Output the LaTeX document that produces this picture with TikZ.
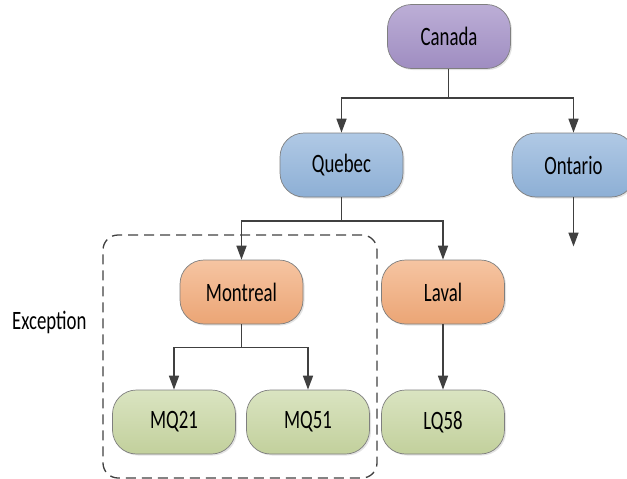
\documentclass[tikz,border=0pt]{standalone}
\usepackage{fontspec}
\setmainfont{Carlito}
\usepackage{graphicx}
\usetikzlibrary{arrows.meta,shadows}

\definecolor{purpT}{HTML}{BCAED6}
\definecolor{purpB}{HTML}{9F8DC1}
\definecolor{blueT}{HTML}{B0C9E5}
\definecolor{blueB}{HTML}{8DAFD5}
\definecolor{oranT}{HTML}{F6C5A2}
\definecolor{oranB}{HTML}{EBA575}
\definecolor{grenT}{HTML}{DAE4C1}
\definecolor{grenB}{HTML}{C2D09C}
\definecolor{edge}{HTML}{7F7F7F}
\definecolor{wire}{HTML}{404040}

% condensed label text
\newcommand{\lbl}[1]{\fontsize{26.5}{28}\selectfont\scalebox{0.71}[1]{#1}}

\tikzset{
  box/.style={rectangle, rounded corners=24pt, draw=edge, line width=0.7pt,
    minimum width=123pt, minimum height=64pt, inner sep=0pt,
    drop shadow={opacity=0.22, shadow xshift=1.5pt, shadow yshift=-1.5pt}},
  purple box/.style={box, top color=purpT, bottom color=purpB},
  blue box/.style={box, top color=blueT, bottom color=blueB},
  orange box/.style={box, top color=oranT, bottom color=oranB},
  green box/.style={box, top color=grenT, bottom color=grenB},
  wireline/.style={draw=wire, line width=1.6pt},
  arr/.style={wireline, -{Triangle[length=14pt,width=10pt]}},
  group/.style={draw=wire, line width=1.3pt, dash pattern=on 10pt off 6pt, rounded corners=15pt}
}

\begin{document}
\begin{tikzpicture}[x=1pt,y=-1pt]
  \useasboundingbox (0,0) rectangle (627,479);
  \begin{scope}
  \clip (0,0) rectangle (627,479);

  % nodes
  \node[purple box] (canada)   at (449,36.5)  {\lbl{Canada}};
  \node[blue box]   (quebec)   at (341.5,165) {\lbl{Quebec}};
  \node[blue box]   (ontario)  at (573.5,165) {\lbl{Ontario}};
  \node[orange box] (montreal) at (241.5,292) {\lbl{Montreal}};
  \node[orange box] (laval)    at (443,292)   {\lbl{Laval}};
  \node[green box]  (mq21)     at (174,422)   {\lbl{MQ21}};
  \node[green box]  (mq51)     at (308,422)   {\lbl{MQ51}};
  \node[green box]  (lq58)     at (443,422)   {\lbl{LQ58}};

  % exception group
  \node[group, minimum width=274pt, minimum height=243pt] (grp) at (240,356.5) {};
  \node[anchor=west, inner sep=0pt] (exc) at (12,322) {\lbl{Exception}};

  % branch points
  \coordinate (cb) at (448.5,98);
  \coordinate (qb) at (341.5,221);
  \coordinate (mb) at (241.5,347.5);
  \coordinate (oend) at (573.5,246.5);

  % connectors
  \draw[wireline] (canada.south -| cb) -- (cb);
  \draw[arr] (cb) -| (quebec.north);
  \draw[arr] (cb) -| (ontario.north);
  \draw[arr] (ontario.south) -- (oend);

  \draw[wireline] (quebec.south) -- (qb);
  \draw[arr] (qb) -| (montreal.north);
  \draw[arr] (qb) -| (laval.north);

  \draw[wireline] (montreal.south) -- (mb);
  \draw[arr] (mb) -| (mq21.north);
  \draw[arr] (mb) -| (mq51.north);

  \draw[arr] (laval.south) -- (lq58.north);
  \end{scope}
\end{tikzpicture}
\end{document}
